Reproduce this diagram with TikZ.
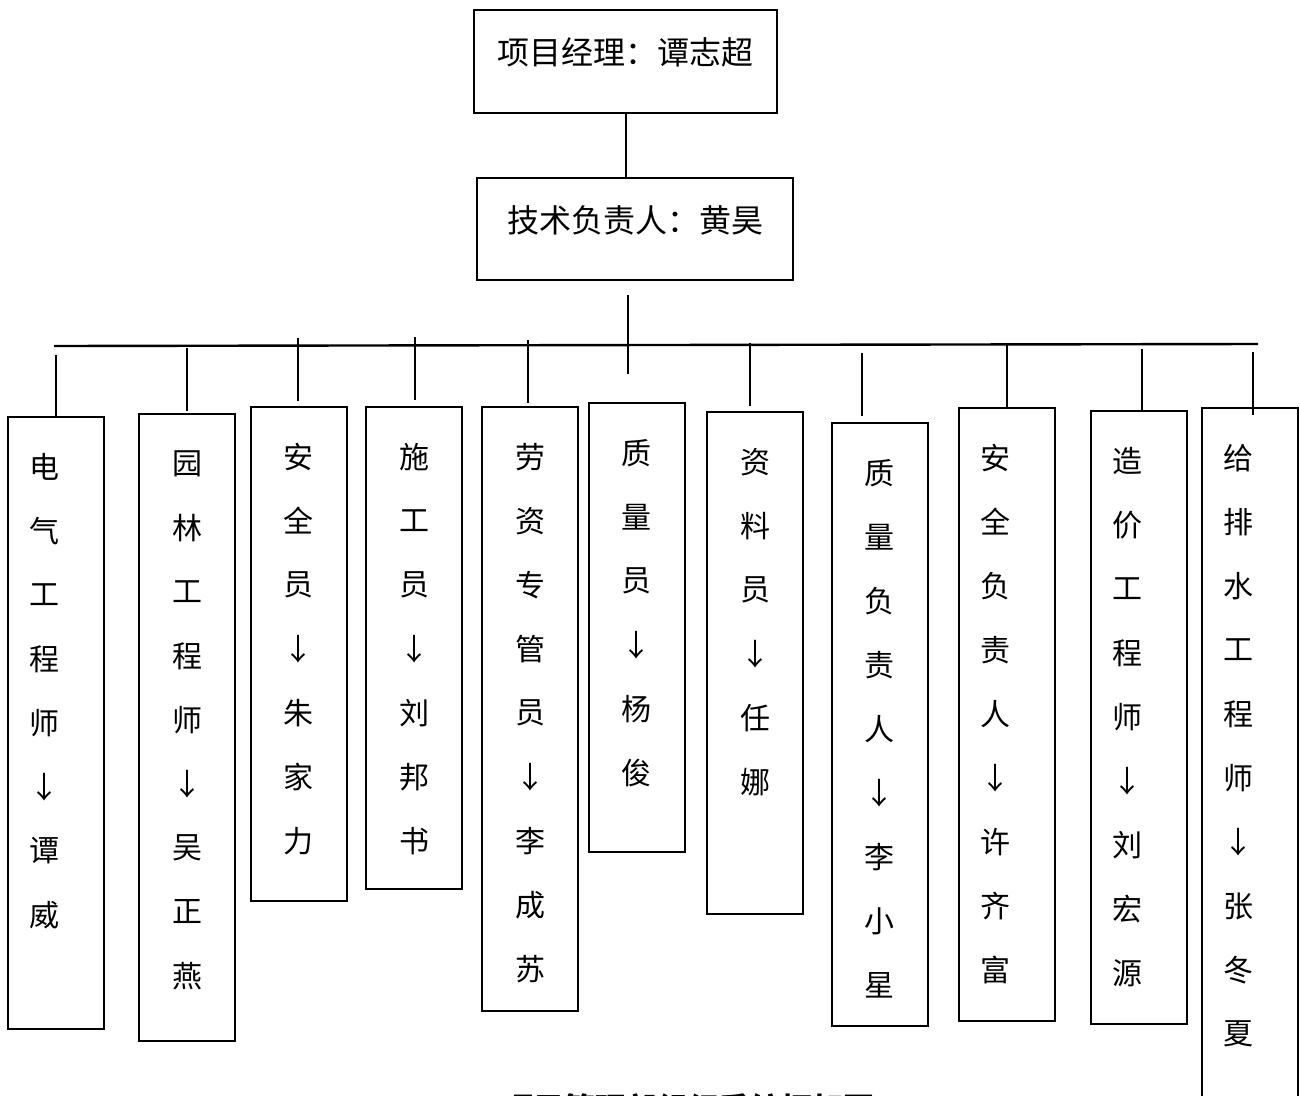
\documentclass[tikz,border=0pt]{standalone}
\usepackage{fontspec}
\setmainfont{Noto Sans CJK SC}
\usepackage{tikz}
\newcommand{\drawthick}{\draw[line width=2.4pt]}
\tikzset{
  rolebox/.style={draw, line width=2.2pt, minimum width=96pt, inner sep=0pt},
  headbox/.style={draw, line width=2.2pt, inner sep=0pt},
  roletext/.style={inner sep=0pt, font=\fontsize{30}{36}\selectfont},
  headtext/.style={inner sep=0pt, font=\fontsize{32}{36}\selectfont}
}
% #1 name, #2 box centre x, #3 top, #4 bottom, #5 text x, #6 characters
\newcommand{\rolecolumn}[6]{
  \node[rolebox, minimum height=#4-#3, anchor=north] (#1) at (#2,#3) {};
  \foreach \c [count=\i] in {#6}{
    \node[roletext] (#1-\i) at (#5,#3+51+64*\i-64) {\c};
  }
}

\begin{document}
\begin{tikzpicture}[x=1pt,y=-1pt]
\useasboundingbox (0,0) rectangle (1300,1095);
% top of the chart
\node[headbox, minimum width=303pt, minimum height=103pt] (pm) at (625.5,61.5) {};
\node[headtext] (pmtext) at ([yshift=9pt]pm.center) {项目经理：谭志超};
\node[headbox, minimum width=316pt, minimum height=102pt] (tech) at (635,229) {};
\node[headtext] (techtext) at ([yshift=9pt]tech.center) {技术负责人：黄昊};
\draw[line width=2pt] (pm.south) -- (pm.south |- tech.north);
% bus line
\coordinate (busL) at (54,346);
\coordinate (busR) at (1258,344);
\drawthick (busL) -- (busR);
\coordinate (drop top) at (628,295);
\coordinate (drop end) at (628,374);
\drawthick (drop top) -- (drop end);
% stubs
\foreach \n/\x/\a/\b in {1/56/355/418,2/187/348/411,3/298/338/401,4/415/337/400,
  5/528/340/403,7/750/343/406,8/862/353/416,9/1007/343/407,10/1142/349/412,11/1253/352/415}{
  \coordinate (st\n) at (\x,\a);
  \coordinate (sb\n) at (\x,\b);
  \drawthick (st\n) -- (sb\n);
}
% columns
\rolecolumn{r1}{56}{416}{1028}{44}{电,气,工,程,师,↓,谭,威}
\rolecolumn{r2}{187}{413}{1040}{187}{园,林,工,程,师,↓,吴,正,燕}
\rolecolumn{r3}{299}{406}{900}{298}{安,全,员,↓,朱,家,力}
\rolecolumn{r4}{414}{406}{888}{414}{施,工,员,↓,刘,邦,书}
\rolecolumn{r5}{530}{406}{1010}{530}{劳,资,专,管,员,↓,李,成,苏}
\rolecolumn{r6}{637}{402}{851}{636}{质,量,员,↓,杨,俊}
\rolecolumn{r7}{755}{411}{913}{755}{资,料,员,↓,任,娜}
\rolecolumn{r8}{880}{422}{1025}{879}{质,量,负,责,人,↓,李,小,星}
\rolecolumn{r9}{1007}{407}{1020}{995}{安,全,负,责,人,↓,许,齐,富}
\rolecolumn{r10}{1139}{410}{1023}{1127}{造,价,工,程,师,↓,刘,宏,源}
\rolecolumn{r11}{1250}{407}{1130}{1238}{给,排,水,工,程,师,↓,张,冬,夏}
% caption, cut by the page edge as in the source
\node[inner sep=0pt, font=\fontsize{31}{36}\selectfont\bfseries] (caption) at (688,1109) {项目管理部组织系统框架图};
\end{tikzpicture}
\end{document}
